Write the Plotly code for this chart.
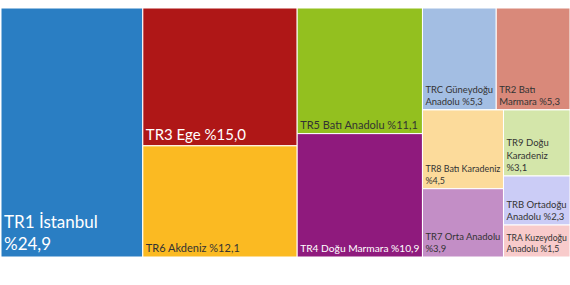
import plotly.graph_objects as go

# Leaf regions
labels = ["TR1 İstanbul", "TR3 Ege", "TR6 Akdeniz", "TR5 Batı Anadolu", "TR4 Doğu Marmara",
          "TRC Güneydoğu Anadolu", "TR2 Batı Marmara", "TR8 Batı Karadeniz", "TR7 Orta Anadolu",
          "TR9 Doğu Karadeniz", "TRB Ortadoğu Anadolu", "TRA Kuzeydoğu Anadolu"]
values = [24.9, 15.0, 12.1, 11.1, 10.9, 5.3, 5.3, 4.5, 3.9, 3.1, 2.3, 1.5]
display = ["TR1 İstanbul<br>%24,9", "TR3 Ege %15,0", "TR6 Akdeniz %12,1", "TR5 Batı Anadolu %11,1",
           "TR4 Doğu Marmara %10,9", "TRC Güneydoğu<br>Anadolu %5,3", "TR2 Batı<br>Marmara %5,3",
           "TR8 Batı Karadeniz<br>%4,5", "TR7 Orta Anadolu<br>%3,9", "TR9 Doğu<br>Karadeniz<br>%3,1",
           "TRB Ortadoğu<br>Anadolu %2,3", "TRA Kuzeydoğu<br>Anadolu %1,5"]
groups = ["", "G1", "G1", "G2", "G2", "G3a", "G3a", "G3b1", "G3b1", "G3b2", "G3b2", "G3b2"]
colors = ["#2A7EC3", "#AF1717", "#FBBA22", "#93C01F", "#8F1A7D", "#A3BEE3", "#D9897A",
          "#FCDB9B", "#C38EC6", "#D4E6AA", "#CBCCF6", "#F8CBCB"]
font_colors = ["white", "white", "#333333", "#333333", "white", "#333333", "#333333",
               "#333333", "#333333", "#333333", "#333333", "#333333"]
font_sizes = [17, 15, 11, 11, 11, 9.5, 9.5, 9.5, 9.5, 9.5, 9.5, 9.5]

# Layout grouping nodes (invisible)
group_ids = ["G1", "G2", "G3", "G3a", "G3b", "G3b1", "G3b2"]
group_parents = ["", "", "", "G3", "G3", "G3b", "G3b"]

ids = labels + group_ids
parents = groups + group_parents
vals = values + [0] * len(group_ids)
texts = display + [""] * len(group_ids)
cols = colors + ["rgba(0,0,0,0)"] * len(group_ids)
fcols = font_colors + ["white"] * len(group_ids)
fsizes = font_sizes + [10] * len(group_ids)

fig = go.Figure(go.Treemap(
    ids=ids, labels=ids, parents=parents, values=vals,
    branchvalues="remainder", sort=False,
    text=texts, texttemplate="%{text}", textposition="bottom left",
    textfont=dict(family="Lato", color=fcols, size=fsizes),
    marker=dict(colors=cols, line=dict(color="white", width=1),
                pad=dict(t=0, l=0, r=0, b=0)),
    tiling=dict(packing="slice-dice", pad=0),
    pathbar=dict(visible=False),
    hoverinfo="skip",
))
fig.update_layout(width=570, height=285, margin=dict(l=1, r=0, t=8, b=28),
                  paper_bgcolor="white")
fig.write_html("out.html")
